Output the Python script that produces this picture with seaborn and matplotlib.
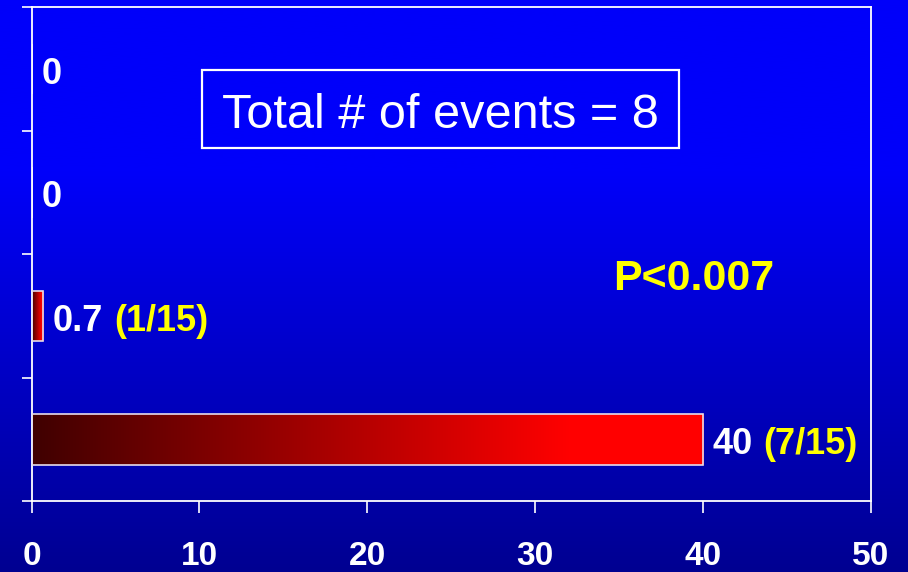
import matplotlib
matplotlib.use("Agg")
import matplotlib.pyplot as plt
from matplotlib.patches import Rectangle
import seaborn as sns
import pandas as pd
import numpy as np

# data
groups = ["Group 1", "Group 2", "Group 3", "Group 4"]
rates = [0, 0, 0.7, 40]
value_labels = ["0", "0", "0.7", "40"]
fraction_labels = ["", "", "(1/15)", "(7/15)"]
x_ticks = [0, 10, 20, 30, 40, 50]
total_text = "Total # of events = 8"
p_text = "P<0.007"

df = pd.DataFrame({"group": groups, "rate": rates})

sns.set_style("ticks")
plt.rcParams['font.family'] = ['Liberation Sans', 'DejaVu Sans']

fig = plt.figure(figsize=(9.08, 5.72), dpi=100)

# blue slide background, bright at top and darker toward the bottom
bg = fig.add_axes([0, 0, 1, 1], zorder=-1)
t = np.linspace(0, 1, 300)
blue = np.where(t < 0.3, 250, 250 - 105 * (t - 0.3) / 0.7) / 255
grad = np.zeros((300, 1, 3))
grad[:, 0, 2] = blue
bg.imshow(grad, aspect='auto', extent=(0, 1, 0, 1), origin='upper')
bg.set_axis_off()

ax = fig.add_axes([0.0347, 0.1241, 0.9246, 0.8628])
ax.set_facecolor('none')

sns.barplot(data=df, x="rate", y="group", orient="h", ax=ax,
            color="red", width=0.41, edgecolor="#e6dcea", linewidth=1.2)

ax.set_xlim(0, 50)
ax.set_ylim(3.5, -0.5)

# dark-to-red gradient inside every bar
cols = np.linspace(0, 1, 256)
red = np.clip(0.25 + 0.75 * cols / 0.8, 0, 1)
bar_grad = np.zeros((1, 256, 3))
bar_grad[0, :, 0] = red
for patch in ax.patches:
    w = patch.get_width()
    if w <= 0:
        continue
    x0, y0 = patch.get_x(), patch.get_y()
    h = patch.get_height()
    patch.set_facecolor('none')
    patch.set_zorder(3)
    im = ax.imshow(bar_grad, aspect='auto', extent=(x0, x0 + w, y0 + h, y0),
                   zorder=2, interpolation='bilinear')
    im.set_clip_path(patch)
ax.set_xlim(0, 50)
ax.set_ylim(3.5, -0.5)
ax.set_aspect('auto')

# value labels, white number followed by yellow fraction
for i, (v, lab, frac) in enumerate(zip(rates, value_labels, fraction_labels)):
    txt = ax.annotate(lab, xy=(v, i), xytext=(7, -10.5), textcoords='offset points',
                      ha='left', va='baseline', color='white', fontsize=26,
                      fontweight='bold')
    if frac:
        ax.annotate(frac, xy=(1, 0), xycoords=txt, xytext=(7.5, 0),
                    textcoords='offset points', ha='left', va='bottom',
                    color='#ffff00', fontsize=26, fontweight='bold')

# framed note
ax.add_patch(Rectangle((0.2031, 0.7153), 0.5682, 0.1581, transform=ax.transAxes,
                       fill=False, ec='white', lw=1.6, zorder=4))
ax.text(0.4866, 0.7558, total_text, transform=ax.transAxes, ha='center',
        va='baseline', color='white', fontsize=35)
ax.text(0.789, 0.4276, p_text, transform=ax.transAxes, ha='center', va='baseline',
        color='#ffff00', fontsize=31, fontweight='bold')

ax.set_xticks(x_ticks)
ax.set_xticklabels([str(x) for x in x_ticks], fontsize=24, fontweight='bold',
                   color='white')
ax.set_yticks([-0.5, 0.5, 1.5, 2.5, 3.5])
ax.set_yticklabels([])
ax.tick_params(axis='x', direction='out', length=8.5, width=1.2, colors='white',
               pad=20)
ax.tick_params(axis='y', direction='out', length=7, width=1.2, colors='white')
for s in ax.spines.values():
    s.set_visible(True)
    s.set_color('white')
    s.set_linewidth(1.3)
ax.set_xlabel('')
ax.set_ylabel('')
ax.grid(False)

fig.savefig('out.png', dpi=100)
